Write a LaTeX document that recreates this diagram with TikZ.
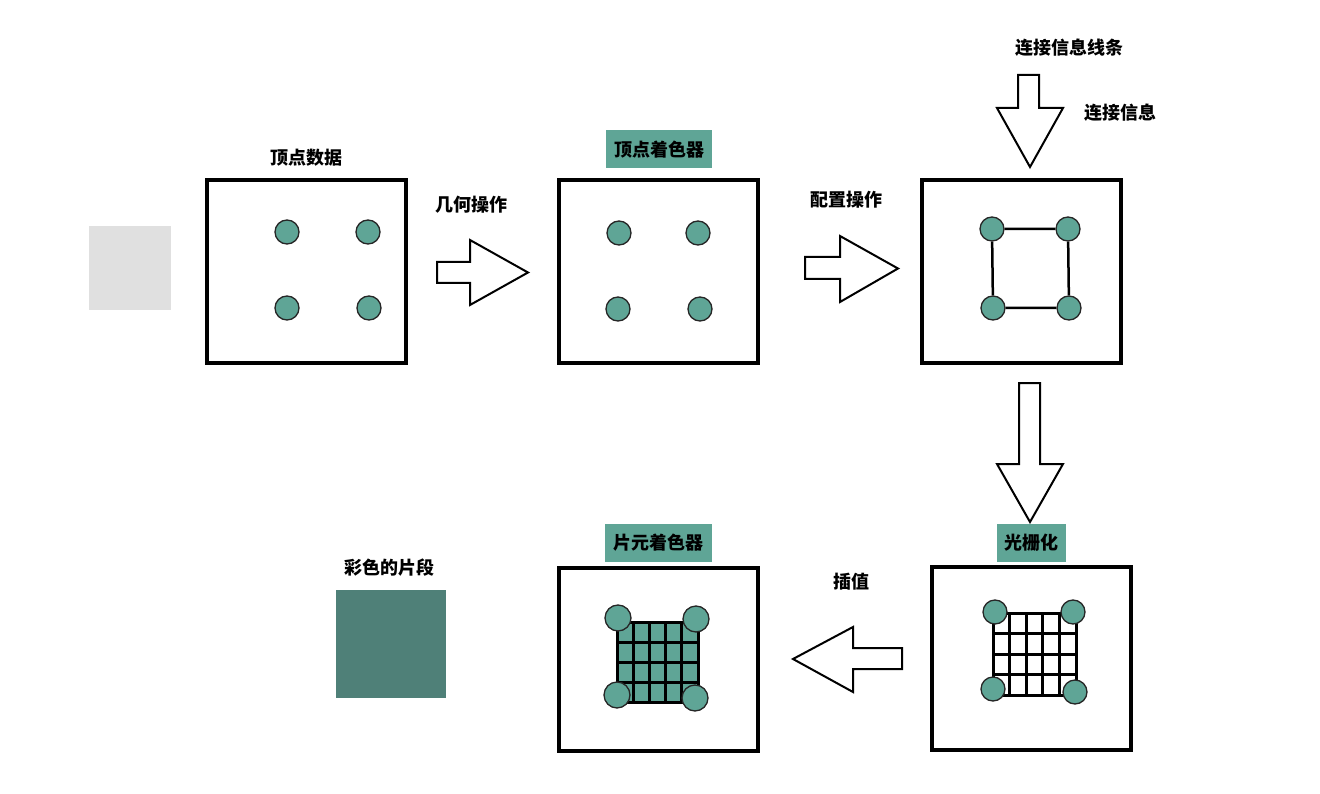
\documentclass[tikz,border=0pt]{standalone}
\usepackage{fontspec}
\setmainfont{Noto Sans CJK SC}
\usepackage{tikz}
\definecolor{tealfill}{RGB}{95,165,150}
\definecolor{fragcol}{RGB}{79,128,120}
\tikzset{
  stage/.style={draw, line width=4pt, minimum width=199pt, minimum height=183pt, inner sep=0pt},
  vert/.style={circle, draw=black!85, line width=1.3pt, fill=tealfill, minimum size=24pt, inner sep=0pt},
  lbl/.style={font=\fontsize{18}{20}\selectfont\bfseries, inner sep=0pt},
  tag/.style={lbl, fill=tealfill, minimum height=38pt},
  blockarrow/.style={draw, line width=2pt, fill=white, line join=miter},
  gridline/.style={line width=3pt}
}
\begin{document}
\begin{tikzpicture}[x=1pt,y=-1pt]
                      \useasboundingbox (0,0) rectangle (1320,794);
                      \fill [black!12] (89,226) rectangle (171,310);
                      \node [stage] (data) at (306.5,271.5) {};
                      \node [lbl] (datalbl) at (306,158) {顶点数据};
                      \node [vert] (a1) at (287,232) {};
                      \node [vert] (a2) at (368,232) {};
                      \node [vert] (a3) at (287,308) {};
                      \node [vert] (a4) at (369,308) {};
                      \draw [blockarrow] (437,262)--(470,262)--(470,240)--(528,272.5)--(470,305)--(470,283)--(437,283)--cycle;
                      \node [lbl] (geom) at (471,205) {几何操作};
                      \node [stage] (vshader) at (658.5,271.5) {};
                      \node [tag, minimum width=106pt] (vtag) at (659,149.5) {顶点着色器};
                      \node [vert] (b1) at (619,233) {};
                      \node [vert] (b2) at (698,233) {};
                      \node [vert] (b3) at (618,309) {};
                      \node [vert] (b4) at (700,309) {};
                      \draw [blockarrow] (805,257)--(840,257)--(840,236)--(898,268.5)--(840,302)--(840,279)--(805,279)--cycle;
                      \node [lbl] (conf) at (846,200) {配置操作};
                      \node [stage] (assembly) at (1021,271.5) {};
                      \draw [blockarrow] (1018,75)--(1039,75)--(1039,108)--(1063,108)--(1030,167)--(997,108)--(1018,108)--cycle;
                      \node [lbl] (linkin) at (1069,48) {连接信息线条};
                      \node [lbl] (link) at (1120,113) {连接信息};
                      \node [vert] (c1) at (992,229) {};
                      \node [vert] (c2) at (1068,229) {};
                      \node [vert] (c3) at (993,308) {};
                      \node [vert] (c4) at (1069,308) {};
                      \draw [line width=2.5pt] (c1)--(c2)--(c4)--(c3)--(c1);
                      \draw [blockarrow] (1019,383)--(1040,383)--(1040,464)--(1063,464)--(1030,522)--(997,464)--(1019,464)--cycle;
                      \node [stage] (raster) at (1031.5,658.5) {};
                      \node [tag, minimum width=69pt] (rtag) at (1031.5,543) {光栅化};
                      \foreach \i in {0,...,5} \draw [gridline] ({993+\i*16.6},613)--({993+\i*16.6},695);
                      \foreach \j in {0,...,4} \draw [gridline] (993,{613+\j*20.5})--(1076,{613+\j*20.5});
                      \node [vert] (d1) at (995,612) {};
                      \node [vert] (d2) at (1073,612) {};
                      \node [vert] (d3) at (993,689) {};
                      \node [vert] (d4) at (1075,692) {};
                      \draw [blockarrow] (902,648)--(853,648)--(853,627)--(793,659)--(853,692)--(853,669)--(902,669)--cycle;
                      \node [lbl] (interp) at (851,582) {插值};
                      \node [stage] (fshader) at (658.5,659.5) {};
                      \node [tag, minimum width=107pt] (ftag) at (658.5,543) {片元着色器};
                      \fill [tealfill] (617,622) rectangle (698,702);
                      \foreach \i in {0,...,5} \draw [gridline] ({617+\i*16.2},622)--({617+\i*16.2},702);
                      \foreach \j in {0,...,4} \draw [gridline] (617,{622+\j*20})--(698,{622+\j*20});
                      \node [vert, minimum size=26pt] (e1) at (618,618) {};
                      \node [vert, minimum size=26pt] (e2) at (696,619) {};
                      \node [vert, minimum size=26pt] (e3) at (617,695) {};
                      \node [vert, minimum size=26pt] (e4) at (695,698) {};
                      \fill [fragcol] (336,590) rectangle (446,698);
                      \node [lbl] (fraglbl) at (389,568) {彩色的片段};
                  \end{tikzpicture}
\end{document}
